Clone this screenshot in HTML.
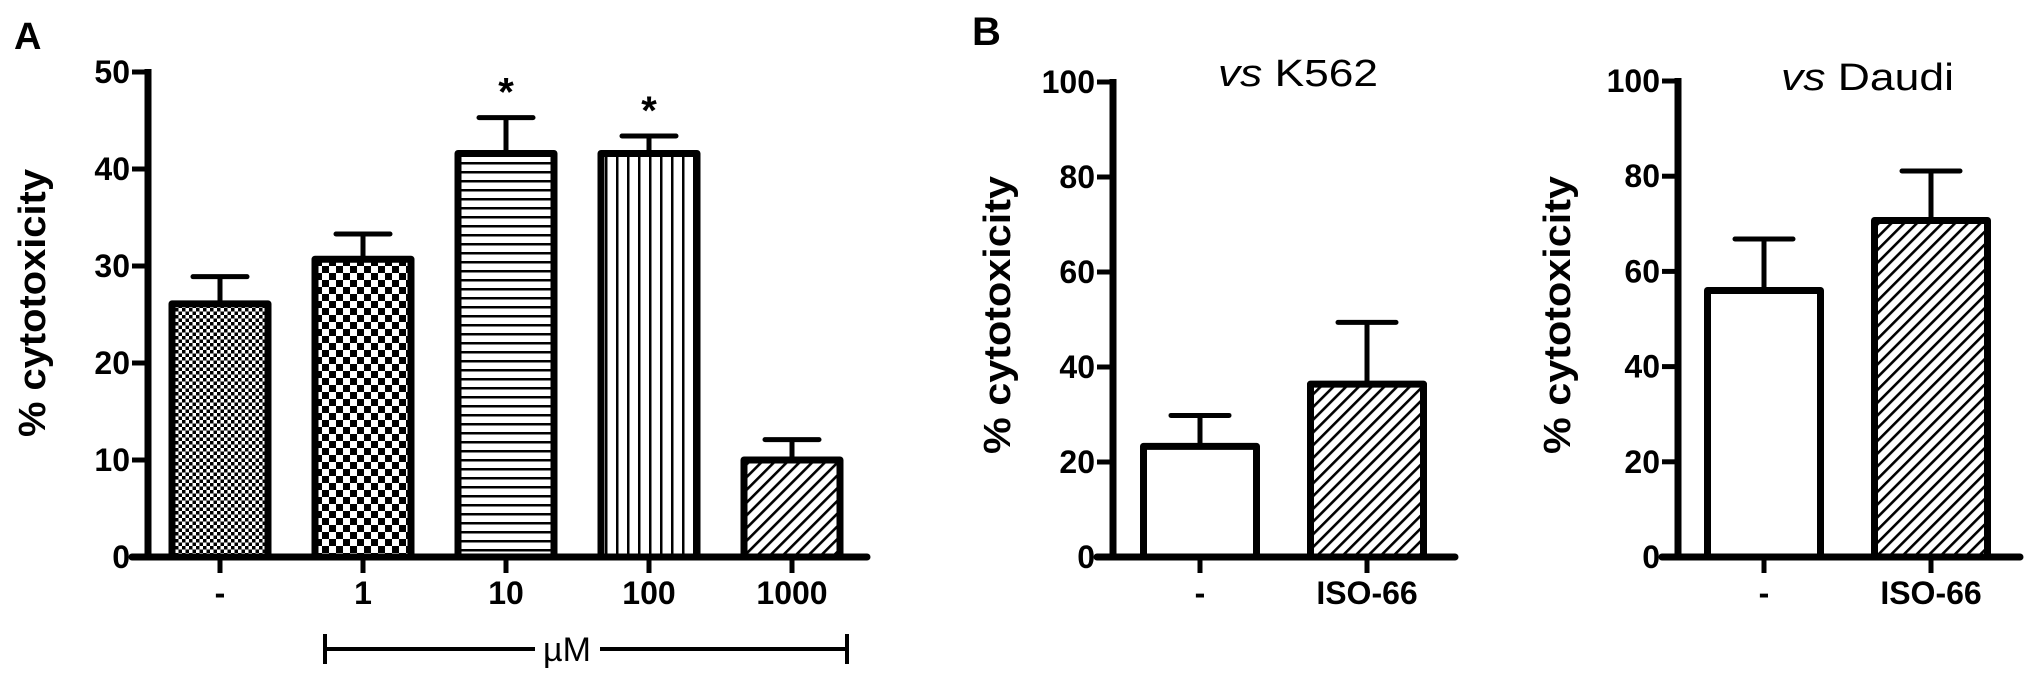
<!DOCTYPE html>
<html><head><meta charset="utf-8"><style>
html,body{margin:0;padding:0;background:#fff;}
svg{display:block;}
text{font-family:"Liberation Sans",Arial,sans-serif;fill:#000;}
</style></head><body>
<svg id="fig" width="2031" height="679" viewBox="0 0 2031 679" xmlns="http://www.w3.org/2000/svg">
<defs>
<pattern id="pFine" width="7" height="7" patternUnits="userSpaceOnUse"><rect width="7" height="7" fill="#fff"/><rect width="3.5" height="3.5" fill="#000"/><rect x="3.5" y="3.5" width="3.5" height="3.5" fill="#000"/></pattern>
<pattern id="pCoarse" width="14" height="14" patternUnits="userSpaceOnUse"><rect width="14" height="14" fill="#fff"/><rect x="0" y="0" width="7" height="7" fill="#000"/><rect x="7" y="7" width="7" height="7" fill="#000"/></pattern>
<pattern id="pHoriz" width="10" height="9" patternUnits="userSpaceOnUse"><rect width="10" height="9" fill="#fff"/><rect y="0" width="10" height="2.5" fill="#000"/></pattern>
<pattern id="pVert" width="11" height="10" patternUnits="userSpaceOnUse"><rect width="11" height="10" fill="#fff"/><rect x="0" width="2.5" height="10" fill="#000"/></pattern>
<pattern id="pDiag" width="9" height="9" patternUnits="userSpaceOnUse" patternTransform="rotate(45)"><rect width="9" height="9" fill="#fff"/><rect width="2.6" height="9" fill="#000"/></pattern>
</defs>
<g id="gA"></g>
<g id="gB1"></g>
<g id="gB2"></g>
</svg>
<script>
// Panel A data
const aCategories = ["-", "1", "10", "100", "1000"];
const aValues = [26.1, 30.7, 41.6, 41.6, 10.0];
const aErrors = [28.9, 33.3, 45.3, 43.4, 12.1];
const aTicks = [0, 10, 20, 30, 40, 50];
const aStars = ["", "", "*", "*", ""];
const aPatterns = ["pFine", "pCoarse", "pHoriz", "pVert", "pDiag"];
// Panel B (vs K562) data
const b1Categories = ["-", "ISO-66"];
const b1Values = [23.3, 36.4];
const b1Errors = [29.8, 49.4];
// Panel B (vs Daudi) data
const b2Categories = ["-", "ISO-66"];
const b2Values = [56.0, 70.7];
const b2Errors = [66.8, 81.1];
const bTicks = [0, 20, 40, 60, 80, 100];
const bPatterns = ["none", "pDiag"];

const NS = "http://www.w3.org/2000/svg";
function mk(parent, tag, attrs, txt) {
  const e = document.createElementNS(NS, tag);
  for (const k in attrs) e.setAttribute(k, attrs[k]);
  if (txt !== undefined) e.textContent = txt;
  parent.appendChild(e);
  return e;
}

function drawPanel(g, cfg) {
  const y = v => cfg.y0 - (v - 0) / cfg.max * (cfg.y0 - cfg.yTop);
  const xc = i => cfg.firstCenter + i * cfg.pitch;
  const yt = mk(g, "text", {x: 0, y: 0, transform: "translate(" + cfg.titleX + "," + cfg.titleY + ") rotate(-90)", "text-anchor": "middle", "dominant-baseline": "central", "font-size": 38, "font-weight": "bold", textLength: cfg.titleLen, lengthAdjust: "spacingAndGlyphs"}, "%  cytotoxicity");
  
  
  cfg.values.forEach((v, i) => {
    const c = xc(i);
    const top = y(v);
    const eb = mk(g, "line", {x1: c, x2: c, y1: top, y2: y(cfg.errors[i]), stroke: "#000", "stroke-width": 5});
    
    
    const cap = mk(g, "line", {x1: c - cfg.cap, x2: c + cfg.cap, y1: y(cfg.errors[i]), y2: y(cfg.errors[i]), stroke: "#000", "stroke-width": 5, "stroke-linecap": "round"});
    
    
    const fill = cfg.patterns[i] === "none" ? "#fff" : "url(#" + cfg.patterns[i] + ")";
    const r = mk(g, "rect", {x: c - cfg.bw / 2, y: top, width: cfg.bw, height: cfg.y0 - top, fill: fill, stroke: "#000", "stroke-width": 7, "stroke-linejoin": "round"});
    
    
    if (cfg.stars && cfg.stars[i]) {
      const s = mk(g, "text", {x: c, y: y(cfg.errors[i]) - 12, "text-anchor": "middle", "font-size": 40, "font-weight": "bold"}, cfg.stars[i]);
      
      
    }
    const tk = mk(g, "line", {x1: c, x2: c, y1: cfg.y0, y2: cfg.y0 + 16, stroke: "#000", "stroke-width": 5});
    
    
    const lb = mk(g, "text", {x: c, y: cfg.y0 + 47, "text-anchor": "middle", "font-size": 32, "font-weight": "bold"}, cfg.cats[i]);
    
    
  });
  const ya = mk(g, "line", {x1: cfg.ax, x2: cfg.ax, y1: cfg.yTop - 3, y2: cfg.y0 + 3, stroke: "#000", "stroke-width": 7});
  
  
  const xa = mk(g, "line", {x1: cfg.ax - 16, x2: cfg.xEnd, y1: cfg.y0, y2: cfg.y0, stroke: "#000", "stroke-width": 7, "stroke-linecap": "round"});
  
  
  cfg.ticks.forEach(t => {
    const ty = y(t);
    const tl = mk(g, "line", {x1: cfg.ax - 16, x2: cfg.ax, y1: ty, y2: ty, stroke: "#000", "stroke-width": 5});
    
    
    const tt = mk(g, "text", {x: cfg.ax - 18, y: ty + 11, "text-anchor": "end", "font-size": 32, "font-weight": "bold"}, String(t));
    
    
  });
}

const gA = document.getElementById("gA");
drawPanel(gA, {y0: 557, yTop: 72, max: 50, ax: 148, xEnd: 867, firstCenter: 220, pitch: 143, bw: 96, cap: 27,
  values: aValues, errors: aErrors, cats: aCategories, ticks: aTicks, patterns: aPatterns, stars: aStars,
  titleX: 33, titleY: 303, titleLen: 268});
const la = mk(gA, "text", {x: 14, y: 49, "font-size": 38, "font-weight": "bold"}, "A");


const br = mk(gA, "path", {d: "M325,634 V664 M325,649 H535 M600,649 H847 M847,634 V664", stroke: "#000", "stroke-width": 4, fill: "none"});


const um = mk(gA, "text", {x: 567, y: 661, "text-anchor": "middle", "font-size": 34}, "µM");



const gB1 = document.getElementById("gB1");
drawPanel(gB1, {y0: 557, yTop: 82, max: 100, ax: 1113, xEnd: 1455, firstCenter: 1200, pitch: 167, bw: 113, cap: 29,
  values: b1Values, errors: b1Errors, cats: b1Categories, ticks: bTicks, patterns: bPatterns,
  titleX: 998, titleY: 315, titleLen: 278});
const lb = mk(gB1, "text", {x: 972, y: 45, "font-size": 40, "font-weight": "bold"}, "B");


const t1 = mk(gB1, "text", {x: 1218, y: 86, "font-size": 38, textLength: 160, lengthAdjust: "spacingAndGlyphs"});


mk(t1, "tspan", {"font-style": "italic"}, "vs");
mk(t1, "tspan", {}, " K562");

const gB2 = document.getElementById("gB2");
drawPanel(gB2, {y0: 557, yTop: 81, max: 100, ax: 1678, xEnd: 2020, firstCenter: 1764, pitch: 167, bw: 113, cap: 29,
  values: b2Values, errors: b2Errors, cats: b2Categories, ticks: bTicks, patterns: bPatterns,
  titleX: 1558, titleY: 315, titleLen: 278});
const t2 = mk(gB2, "text", {x: 1781, y: 90, "font-size": 38, textLength: 173, lengthAdjust: "spacingAndGlyphs"});


mk(t2, "tspan", {"font-style": "italic"}, "vs");
mk(t2, "tspan", {}, " Daudi");
</script>
</body></html>
